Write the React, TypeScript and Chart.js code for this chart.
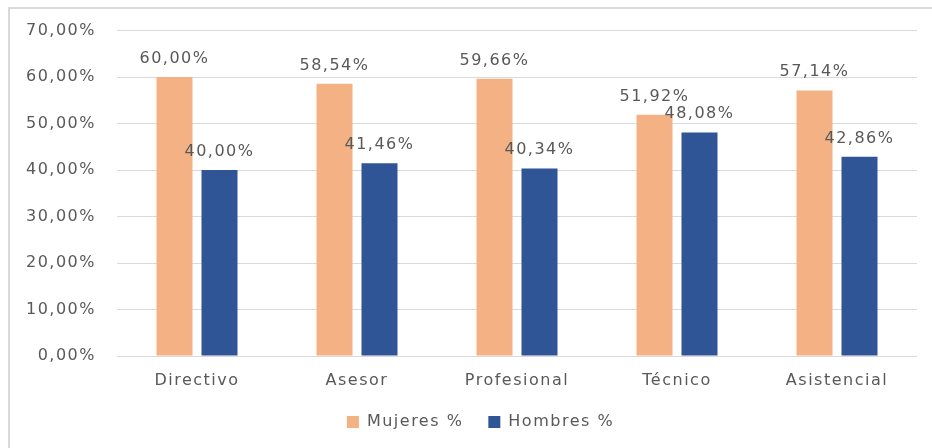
import React, { useEffect, useRef } from "react";
import { Chart, registerables } from "chart.js";

Chart.register(...registerables);

const categories = ["Directivo", "Asesor", "Profesional", "Técnico", "Asistencial"];
const mujeres = [60.0, 58.54, 59.66, 51.92, 57.14];
const hombres = [40.0, 41.46, 40.34, 48.08, 42.86];
const seriesNames = ["Mujeres %", "Hombres %"];

const ORANGE = "#F4B183";
const BLUE = "#2F5597";
const TEXT = "#595959";
const GRID = "#D9D9D9";
const FONT = "'DejaVu Sans', sans-serif";

const fmt = (v: number) => v.toFixed(2).replace(".", ",") + "%";

const spacingPlugin = {
  id: "spacing",
  beforeUpdate(chart: any) {
    chart.ctx.letterSpacing = "1.5px";
  },
  beforeLayout(chart: any) {
    chart.ctx.letterSpacing = "1.5px";
  },
  afterLayout(chart: any) {
    if (chart.legend) {
      chart.legend.left += 22;
      chart.legend.right += 22;
    }
  },
  beforeDraw(chart: any) {
    chart.ctx.letterSpacing = "1.5px";
  },
};

const framePlugin = {
  id: "frame",
  beforeDraw(chart: any) {
    const ctx = chart.ctx;
    ctx.save();
    ctx.fillStyle = "#FFFFFF";
    ctx.fillRect(0, 0, chart.width, chart.height);
    ctx.strokeStyle = GRID;
    ctx.lineWidth = 2;
    ctx.strokeRect(9, 8, chart.width + 20, chart.height + 20);
    ctx.restore();
  },
};

const labelsPlugin = {
  id: "barLabels",
  afterDatasetsDraw(chart: any) {
    const ctx = chart.ctx;
    ctx.save();
    ctx.letterSpacing = "1.5px";
    ctx.font = `16px ${FONT}`;
    ctx.fillStyle = TEXT;
    ctx.textAlign = "center";
    ctx.textBaseline = "alphabetic";
    chart.data.datasets.forEach((ds: any, i: number) => {
      const meta = chart.getDatasetMeta(i);
      meta.data.forEach((bar: any, j: number) => {
        ctx.fillText(fmt(ds.data[j]), bar.x, bar.y - 14);
      });
    });
    ctx.restore();
  },
};

export default function App() {
  const ref = useRef<HTMLCanvasElement>(null);

  useEffect(() => {
    if (!ref.current) return;
    const chart = new Chart(ref.current, {
      type: "bar",
      data: {
        labels: categories,
        datasets: [
          { label: seriesNames[0], data: mujeres, backgroundColor: ORANGE, borderWidth: 0 },
          { label: seriesNames[1], data: hombres, backgroundColor: BLUE, borderWidth: 0 },
        ],
      },
      options: {
        animation: false,
        responsive: true,
        maintainAspectRatio: false,
        datasets: { bar: { categoryPercentage: 0.5625, barPercentage: 0.8 } },
        layout: { padding: { left: 0, right: 15, top: 30, bottom: 8 } },
        plugins: {
          tooltip: { enabled: false },
          legend: {
            position: "bottom",
            labels: {
              boxWidth: 12,
              boxHeight: 12,
              padding: 25,
              color: TEXT,
              font: { family: FONT, size: 16 },
            },
          },
        },
        scales: {
          x: {
            grid: { display: false, drawTicks: false },
            border: { display: false },
            ticks: { color: TEXT, font: { family: FONT, size: 16 }, padding: 15 },
            afterFit(scale: any) {
              scale.height = 33;
            },
          },
          y: {
            min: 0,
            max: 70,
            grid: { color: GRID, lineWidth: 1, drawTicks: false },
            border: { display: false },
            ticks: {
              stepSize: 10,
              color: TEXT,
              font: { family: FONT, size: 16 },
              padding: 21,
              callback: (v: any) => fmt(Number(v)),
            },
            afterFit(scale: any) {
              scale.width = 117;
            },
          },
        },
      },
      plugins: [spacingPlugin, framePlugin, labelsPlugin],
    });
    return () => chart.destroy();
  }, []);

  return (
    <div style={{ position: "fixed", left: 0, top: 0, width: 932, height: 448 }}>
      <canvas ref={ref} />
    </div>
  );
}
